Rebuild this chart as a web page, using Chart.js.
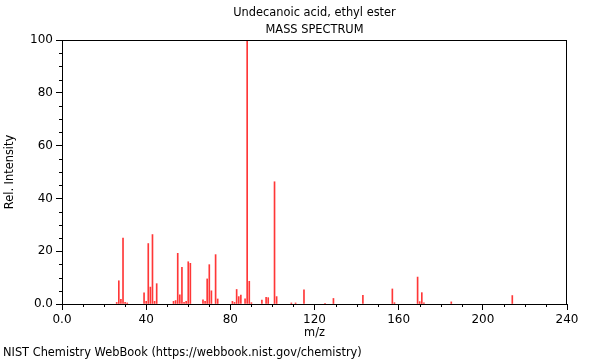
<!DOCTYPE html>
<html>
<head>
<meta charset="utf-8">
<script src="https://cdn.jsdelivr.net/npm/chart.js@4"></script>
<style>
  html, body { margin: 0; padding: 0; background: #fff; }
  #wrap { width: 600px; height: 360px; }
</style>
</head>
<body>
<div id="wrap"><canvas id="spectrum" width="600" height="360"></canvas></div>
<script>
const chartTitle = "Undecanoic acid, ethyl ester";
const chartSubtitle = "MASS SPECTRUM";
const xLabel = "m/z";
const yLabel = "Rel. Intensity";
const footer = "NIST Chemistry WebBook (https://webbook.nist.gov/chemistry)";

// peaks
const mz = [26, 27, 28, 29, 30, 31, 39, 40, 41, 42, 43, 44, 45, 53, 54, 55, 56, 57, 58, 59,
  60, 61, 67, 68, 69, 70, 71, 73, 74, 81, 82, 83, 84, 85, 87, 88, 89, 90, 95, 97,
  98, 101, 102, 109, 111, 115, 125, 129, 143, 157, 158, 169, 170, 171, 172, 185, 214];
const intensity = [0.6, 8.8, 1.8, 25, 0.6, 0.4, 4.2, 1.0, 22.9, 6.4, 26.3, 1.0, 7.7, 1.0, 1.3, 19.2, 3.5, 13.9, 0.6, 1.0,
  16.0, 15.4, 1.6, 1.0, 9.5, 14.9, 5.0, 18.7, 1.9, 1.0, 0.6, 5.5, 2.8, 3.4, 2.0, 100, 8.6, 0.5, 1.5, 2.5,
  2.4, 46.3, 2.8, 0.4, 0.4, 5.4, 0.3, 2.1, 3.3, 5.7, 0.5, 10.2, 0.9, 4.3, 0.4, 0.8, 3.2];

const xMajor = [0, 40, 80, 120, 160, 200, 240];
const yMajor = [0, 20, 40, 60, 80, 100];

const FONT = "'DejaVu Sans', sans-serif";

// minor ticks, frame and the free text around the plot
const decorations = {
  id: "decorations",
  afterDraw(chart) {
    const { ctx, chartArea: a, scales } = chart;
    ctx.save();
    ctx.strokeStyle = "#000";
    ctx.lineWidth = 1;
    ctx.strokeRect(a.left + 0.5, a.top + 0.5, a.right - a.left - 1, a.bottom - a.top);

    ctx.beginPath();
    for (let v = 0; v <= 240; v += 10) {
      if (v % 40 === 0) continue;
      const px = Math.round(scales.x.getPixelForValue(v)) + 0.5;
      ctx.moveTo(px, a.bottom);
      ctx.lineTo(px, a.bottom + 3);
    }
    for (let v = 0; v <= 100; v += 5) {
      if (v % 20 === 0) continue;
      const py = Math.round(scales.y.getPixelForValue(v)) + 0.5;
      ctx.moveTo(a.left, py);
      ctx.lineTo(a.left - 3, py);
    }
    ctx.stroke();

    const cx = (a.left + a.right) / 2;
    ctx.fillStyle = "#000";
    ctx.font = "11.4px " + FONT;
    ctx.textAlign = "center";
    ctx.textBaseline = "middle";
    ctx.fillText(chartTitle, cx, 13);
    ctx.fillText(chartSubtitle, cx, 30);
    ctx.fillText(xLabel, cx, 333);

    ctx.save();
    ctx.translate(10, (a.top + a.bottom) / 2);
    ctx.rotate(-Math.PI / 2);
    ctx.fillText(yLabel, 0, 0);
    ctx.restore();

    ctx.textAlign = "left";
    ctx.fillText(footer, 3, 353);
    ctx.restore();
  }
};

new Chart(document.getElementById("spectrum"), {
  type: "bar",
  data: {
    datasets: [{
      data: mz.map((m, i) => ({ x: m, y: intensity[i] })),
      backgroundColor: "rgba(255, 20, 20, 0.85)",
      barThickness: 1,
      borderWidth: 0
    }]
  },
  options: {
    responsive: false,
    animation: false,
    layout: { padding: { top: 40, right: 33, left: 0, bottom: 0 } },
    plugins: { legend: { display: false }, tooltip: { enabled: false } },
    scales: {
      x: {
        type: "linear",
        min: 0,
        max: 240,
        offset: false,
        afterFit: (s) => { s.height = 56; },
        afterBuildTicks: (s) => { s.ticks = xMajor.map((v) => ({ value: v })); },
        ticks: {
          color: "#000",
          padding: 3,
          maxRotation: 0,
          font: { family: FONT, size: 12 },
          callback: (v) => (v === 0 ? "0.0" : v)
        },
        grid: { drawOnChartArea: false, tickLength: 6, color: "#000", offset: false },
        border: { color: "#000" }
      },
      y: {
        min: 0,
        max: 100,
        afterFit: (s) => { s.width = 62; },
        afterBuildTicks: (s) => { s.ticks = yMajor.map((v) => ({ value: v })); },
        ticks: {
          color: "#000",
          padding: 3,
          font: { family: FONT, size: 12 },
          callback: (v) => (v === 0 ? "0.0" : v)
        },
        grid: { drawOnChartArea: false, tickLength: 6, color: "#000" },
        border: { color: "#000" }
      }
    }
  },
  plugins: [decorations]
});
</script>
</body>
</html>
